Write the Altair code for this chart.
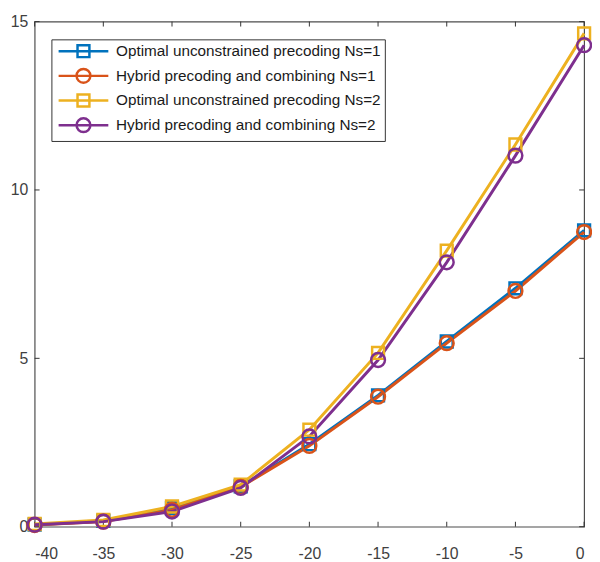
import altair as alt
import pandas as pd

x_vals = [-40, -35, -30, -25, -20, -15, -10, -5, 0]
opt_ns1 = [0.06, 0.17, 0.55, 1.2, 2.45, 3.9, 5.5, 7.08, 8.8]
hyb_ns1 = [0.05, 0.15, 0.5, 1.18, 2.4, 3.86, 5.45, 7.0, 8.75]
opt_ns2 = [0.08, 0.2, 0.6, 1.25, 2.88, 5.16, 8.2, 11.35, 14.65]
hyb_ns2 = [0.06, 0.15, 0.45, 1.15, 2.68, 4.95, 7.85, 11.02, 14.3]

series_names = [
    "Optimal unconstrained precoding Ns=1",
    "Hybrid precoding and combining Ns=1",
    "Optimal unconstrained precoding Ns=2",
    "Hybrid precoding and combining Ns=2",
]
series_colors = ["#0072BD", "#D95319", "#EDB120", "#7E2F8E"]
x_ticks = [-40, -35, -30, -25, -20, -15, -10, -5, 0]
y_ticks = [0, 5, 10, 15]

rows = []
for name, vals in zip(series_names, [opt_ns1, hyb_ns1, opt_ns2, hyb_ns2]):
    for xv, yv in zip(x_vals, vals):
        rows.append({"x": xv, "y": yv, "series": name})
df = pd.DataFrame(rows)

W, H = 557, 512
xscale = alt.Scale(domain=[-40, 0], nice=False, zero=False)
yscale = alt.Scale(domain=[0, 15], nice=False, zero=False)
cscale = alt.Scale(domain=series_names, range=series_colors)

sq_path = "M-3.6,0H3.6M-0.86,-0.86H0.86V0.86H-0.86Z"
ci_path = "M-3.6,0H3.6M-1,0A1,1,0,1,0,1,0A1,1,0,1,0,-1,0Z"
shscale = alt.Scale(domain=series_names, range=[sq_path, ci_path, sq_path, ci_path])

xaxis = alt.Axis(values=x_ticks, labelExpr="'' + datum.value", domain=False, ticks=False,
                 grid=False, labelFont="Liberation Sans", labelFontSize=16, labelColor="#404040",
                 labelPadding=19, title=None)
yaxis = alt.Axis(values=y_ticks, labelExpr="'' + datum.value", domain=False, ticks=False,
                 grid=False, labelFont="Liberation Sans", labelFontSize=16, labelColor="#404040",
                 labelPadding=7, title=None)

legend_def = alt.Legend(
    title=None, orient="none", legendX=17, legendY=18,
    labelFont="Liberation Sans", labelFontSize=15.5, labelColor="#1a1a1a",
    symbolSize=196, symbolStrokeWidth=2.5, symbolOffset=20.5, labelOffset=24.5,
    rowPadding=1, padding=3.5, strokeColor="#333333", fillColor="white",
    symbolOpacity=1, labelLimit=400,
)

base = alt.Chart(df)

lines = base.mark_line(strokeWidth=3).encode(
    x=alt.X("x:Q", scale=xscale, axis=xaxis),
    y=alt.Y("y:Q", scale=yscale, axis=yaxis),
    color=alt.Color("series:N", scale=cscale, legend=legend_def),
    detail="series:N",
)

squares = base.transform_filter(
    alt.FieldOneOfPredicate(field="series", oneOf=[series_names[0], series_names[2]])
).mark_point(shape="square", filled=False, size=144, strokeWidth=2.5, opacity=1).encode(
    x=alt.X("x:Q", scale=xscale),
    y=alt.Y("y:Q", scale=yscale),
    color=alt.Color("series:N", scale=cscale, legend=legend_def),
)

circles = base.transform_filter(
    alt.FieldOneOfPredicate(field="series", oneOf=[series_names[1], series_names[3]])
).mark_point(shape="circle", filled=False, size=196, strokeWidth=2.5, opacity=1).encode(
    x=alt.X("x:Q", scale=xscale),
    y=alt.Y("y:Q", scale=yscale),
    color=alt.Color("series:N", scale=cscale, legend=legend_def),
)

legend_layer = base.transform_filter("datum.x > 100").mark_point(filled=False).encode(
    x=alt.X("x:Q", scale=xscale),
    y=alt.Y("y:Q", scale=yscale),
    color=alt.Color("series:N", scale=cscale, legend=legend_def),
    shape=alt.Shape("series:N", scale=shscale, legend=legend_def),
)

xt = pd.DataFrame({"t": x_ticks})
yt = pd.DataFrame({"t": y_ticks})
tick_style = dict(color="#333333", strokeWidth=1)
xt_bottom = alt.Chart(xt).mark_rule(**tick_style).encode(
    x=alt.X("t:Q", scale=xscale), y=alt.value(H), y2=alt.value(H - 5))
xt_top = alt.Chart(xt).mark_rule(**tick_style).encode(
    x=alt.X("t:Q", scale=xscale), y=alt.value(0), y2=alt.value(5))
yt_left = alt.Chart(yt).mark_rule(**tick_style).encode(
    y=alt.Y("t:Q", scale=yscale), x=alt.value(0), x2=alt.value(5))
yt_right = alt.Chart(yt).mark_rule(**tick_style).encode(
    y=alt.Y("t:Q", scale=yscale), x=alt.value(W), x2=alt.value(W - 5))

chart = alt.layer(
    xt_bottom, xt_top, yt_left, yt_right, lines, squares, circles, legend_layer
).properties(
    width=W, height=H,
    background="white",
    autosize=alt.AutoSizeParams(type="none"),
    padding={"left": 27, "top": 10, "right": 8, "bottom": 32},
).configure_view(
    stroke="#4d4d4d", strokeWidth=1.2
)

chart.save("out.html", embed_options={"renderer": "svg", "actions": False})
